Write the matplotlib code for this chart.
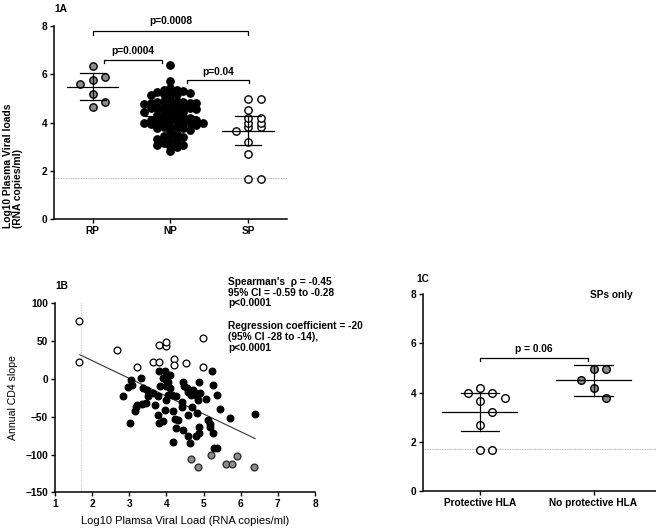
import numpy as np
import matplotlib
matplotlib.use('Agg')
import matplotlib.pyplot as plt

plt.rcParams['font.family'] = ['Liberation Sans', 'DejaVu Sans']
plt.rcParams['font.weight'] = 'bold'
plt.rcParams['font.size'] = 7.3

# panel 1A / 1B data (log10 viral load, annual CD4 slope)
rp_vl = [4.65, 4.85, 5.2, 5.6, 5.78, 5.9, 6.35]
rp_slope = [-106, -116, -101, -113, -113, -102, -116]

sp_vl = [1.65, 1.65, 2.68, 3.2, 3.65, 3.8, 3.8, 4.0, 4.0, 4.2, 4.2, 4.52, 4.98, 4.98]
sp_slope = [77, 23, 38, 16, 23, 22, 45, 43, 49, 26, 19, 21, 54, 16]

np_vl = [2.84, 2.97, 3.06, 3.08, 3.02, 3.15, 3.17, 3.2, 3.31, 3.33, 3.38, 3.45, 3.47,
         3.51, 3.65, 3.69, 3.78, 3.81, 3.78, 3.81, 3.83, 3.9, 3.92, 3.96, 3.99, 4.0,
         4.0, 3.99, 3.96, 4.05, 4.05, 4.1, 4.11, 4.14, 4.19, 4.19, 4.23, 4.26, 4.27,
         4.32, 4.43, 4.43, 4.46, 4.47, 4.46, 4.56, 4.59, 4.59, 4.59, 4.63, 4.66, 4.68,
         4.72, 4.76, 4.8, 4.82, 4.82, 4.86, 4.88, 4.89, 4.9, 4.87, 5.08, 5.12, 5.17,
         5.17, 5.23, 5.26, 5.26, 5.29, 5.35, 5.35, 5.44, 5.71, 6.39]
np_slope = [-23, -11, -1, -8, -58, -43, -37, -34, 1, -33, -12, -32, -15,
            -22, -18, -34, -22, 10, -48, -58, -10, -56, 1, 10, -10, 3,
            -1, -28, -41, -4, -21, -12, 5, -21, -43, -84, -53, -65, -23,
            -54, -30, -37, -4, -9, -68, -12, -17, -48, -76, -85, -21, -37,
            -15, -19, -75, -23, -45, -28, -4, -63, -19, -72, -26, -54, -59,
            -63, 10, -8, -72, -92, -21, -91, -40, -52, -46]

groups_a = ['RP', 'NP', 'SP']
pvals_a = ['p=0.0008', 'p=0.0004', 'p=0.04']

reg_slope = -23.5
reg_intercept = 71.2

# panel 1C (SPs only)
groups_c = ['Protective HLA', 'No protective HLA']
prot = [4.2, 4.0, 4.0, 3.8, 3.65, 3.2, 2.68, 1.65, 1.65]
noprot = [4.98, 4.98, 4.52, 4.2, 3.8]

detection_limit = 1.7
t95 = {4: 2.776, 6: 2.447, 8: 2.306, 13: 2.160}

GRAY = '#8c8c8c'


def ci95(vals):
    v = np.asarray(vals)
    n = len(v)
    m = v.mean()
    sem = v.std(ddof=1) / np.sqrt(n)
    t = t95.get(n - 1, 1.99)
    return m, m - t * sem, m + t * sem


def columns(ax, pos, vals, col_px, gap_px):
    # column scatter: a point moves to the next free column if too close vertically
    trans = ax.transData
    ypx = trans.transform(np.column_stack([np.zeros(len(vals)), vals]))[:, 1]
    xs = trans.transform([[1, 0]])[0, 0] - trans.transform([[0, 0]])[0, 0]
    used = {}
    off = np.zeros(len(vals))
    order = [0, 1, -1, 2, -2, 3, -3, 4, -4, 5, -5]
    for i in np.argsort(-ypx, kind='stable'):
        for c in order:
            if all(abs(ypx[i] - y) >= gap_px for y in used.get(c, [])):
                used.setdefault(c, []).append(ypx[i])
                off[i] = c * col_px
                break
    return pos + off / xs


def style(ax):
    for s in ['top', 'right']:
        ax.spines[s].set_visible(False)
    for s in ['left', 'bottom']:
        ax.spines[s].set_linewidth(1.1)
    ax.tick_params(direction='out', length=3, width=1, pad=2)


def mean_ci(ax, pos, vals):
    m, lo, hi = ci95(vals)
    ax.plot([pos - 0.33, pos + 0.33], [m, m], color='black', lw=0.9, zorder=4)
    ax.plot([pos - 0.17, pos + 0.17], [lo, lo], color='black', lw=0.9, zorder=4)
    ax.plot([pos - 0.17, pos + 0.17], [hi, hi], color='black', lw=0.9, zorder=4)
    ax.plot([pos, pos], [lo, hi], color='black', lw=0.9, zorder=4)


def bracket(ax, x0, x1, y, h, text, ty):
    ax.plot([x0, x0, x1, x1], [y - h, y, y, y - h], color='black', lw=0.9)
    ax.text((x0 + x1) / 2, ty, text, ha='center', va='center')


fig = plt.figure(figsize=(6.56, 5.32), dpi=100)

# ---- 1A
axA = fig.add_axes([0.0823, 0.5883, 0.355, 0.3628])
axA.set_xlim(-0.5, 2.5)
axA.set_ylim(0, 8)
style(axA)
axA.set_yticks([0, 2, 4, 6, 8])
axA.set_xticks([0, 1, 2])
axA.set_xticklabels(groups_a)
axA.axhline(detection_limit, color='#999999', lw=0.6, ls=(0, (1, 1)))
cols = [(GRAY, 'black', 12.5, 12), ('black', 'black', 6.5, 4.2), ('white', 'black', 12.5, 4.6)]
for i, vals in enumerate([rp_vl, np_vl, sp_vl]):
    fc, ec, cw, gap = cols[i]
    x = columns(axA, i, vals, cw, gap)
    axA.scatter(x, vals, s=28, facecolor=fc, edgecolor=ec, linewidth=1.0, zorder=3)
    mean_ci(axA, i, vals)
bracket(axA, 0, 2, 7.78, 0.14, pvals_a[0], 8.2)
bracket(axA, 0.14, 0.89, 6.6, 0.14, pvals_a[1], 6.97)
bracket(axA, 1.21, 2.01, 5.77, 0.14, pvals_a[2], 6.1)
axA.text(-0.178, -0.045, 'Log10 Plasma Viral loads\n(RNA copies/ml)', rotation=90,
         transform=axA.transAxes, ha='center', va='bottom', multialignment='left',
         fontsize=7.4, linespacing=1.0)
axA.text(0.0, 1.09, '1A', transform=axA.transAxes, ha='left', va='center')

# ---- 1B
axB = fig.add_axes([0.0838, 0.0746, 0.3963, 0.3553])
axB.set_xlim(1, 8)
axB.set_ylim(-150, 100)
style(axB)
axB.set_xticks(range(1, 9))
axB.set_yticks(range(-150, 101, 50))
axB.axvline(detection_limit, color='#bbbbbb', lw=0.6, ls=(0, (1, 1)))
axB.scatter(np_vl, np_slope, s=24, facecolor='black', edgecolor='black', linewidth=0.8, zorder=3)
axB.scatter(sp_vl, sp_slope, s=24, facecolor='white', edgecolor='black', linewidth=0.9, zorder=3)
axB.scatter(rp_vl, rp_slope, s=24, facecolor=GRAY, edgecolor='#333333', linewidth=1.0, zorder=3)
all_vl = np.array(np_vl + sp_vl + rp_vl)
xl = np.array([all_vl.min() + 0.02, all_vl.max()])
axB.plot(xl, reg_intercept + reg_slope * xl, color='#333333', lw=0.8, zorder=2)
axB.set_xlabel('Log10 Plamsa Viral Load (RNA copies/ml)', labelpad=5, fontsize=8)
axB.set_ylabel('Annual CD4 slope', labelpad=5, fontsize=7.6)
axB.text(0.665, 1.14, "Spearman's  \u03c1 = -0.45\n95% CI = -0.59 to -0.28\np<0.0001",
         transform=axB.transAxes, ha='left', va='top', linespacing=1.1)
axB.text(0.665, 0.906, 'Regression coefficient = -20\n(95% CI -28 to -14),\np<0.0001',
         transform=axB.transAxes, ha='left', va='top', linespacing=1.1)
axB.text(0.0, 1.09, '1B', transform=axB.transAxes, ha='left', va='center')

# ---- 1C
axC = fig.add_axes([0.645, 0.0771, 0.355, 0.3697])
axC.set_xlim(-0.5, 1.55)
axC.set_ylim(0, 8)
style(axC)
axC.set_yticks([0, 2, 4, 6, 8])
axC.set_xticks([0, 1])
axC.set_xticklabels(groups_c)
axC.axhline(detection_limit, color='#999999', lw=0.6, ls=(0, (1, 1)))
for i, (vals, fc) in enumerate([(prot, 'white'), (noprot, GRAY)]):
    x = columns(axC, i, vals, 12.3, 12)
    axC.scatter(x, vals, s=30, facecolor=fc, edgecolor='black', linewidth=1.0, zorder=3)
    mean_ci(axC, i, vals)
bracket(axC, 0, 0.95, 5.4, 0.1, 'p = 0.06', 5.78)
axC.text(1.16, 7.97, 'SPs only', ha='center', va='center')
axC.text(-0.03, 1.08, '1C', transform=axC.transAxes, ha='left', va='center')

fig.savefig('out.png', dpi=100)
